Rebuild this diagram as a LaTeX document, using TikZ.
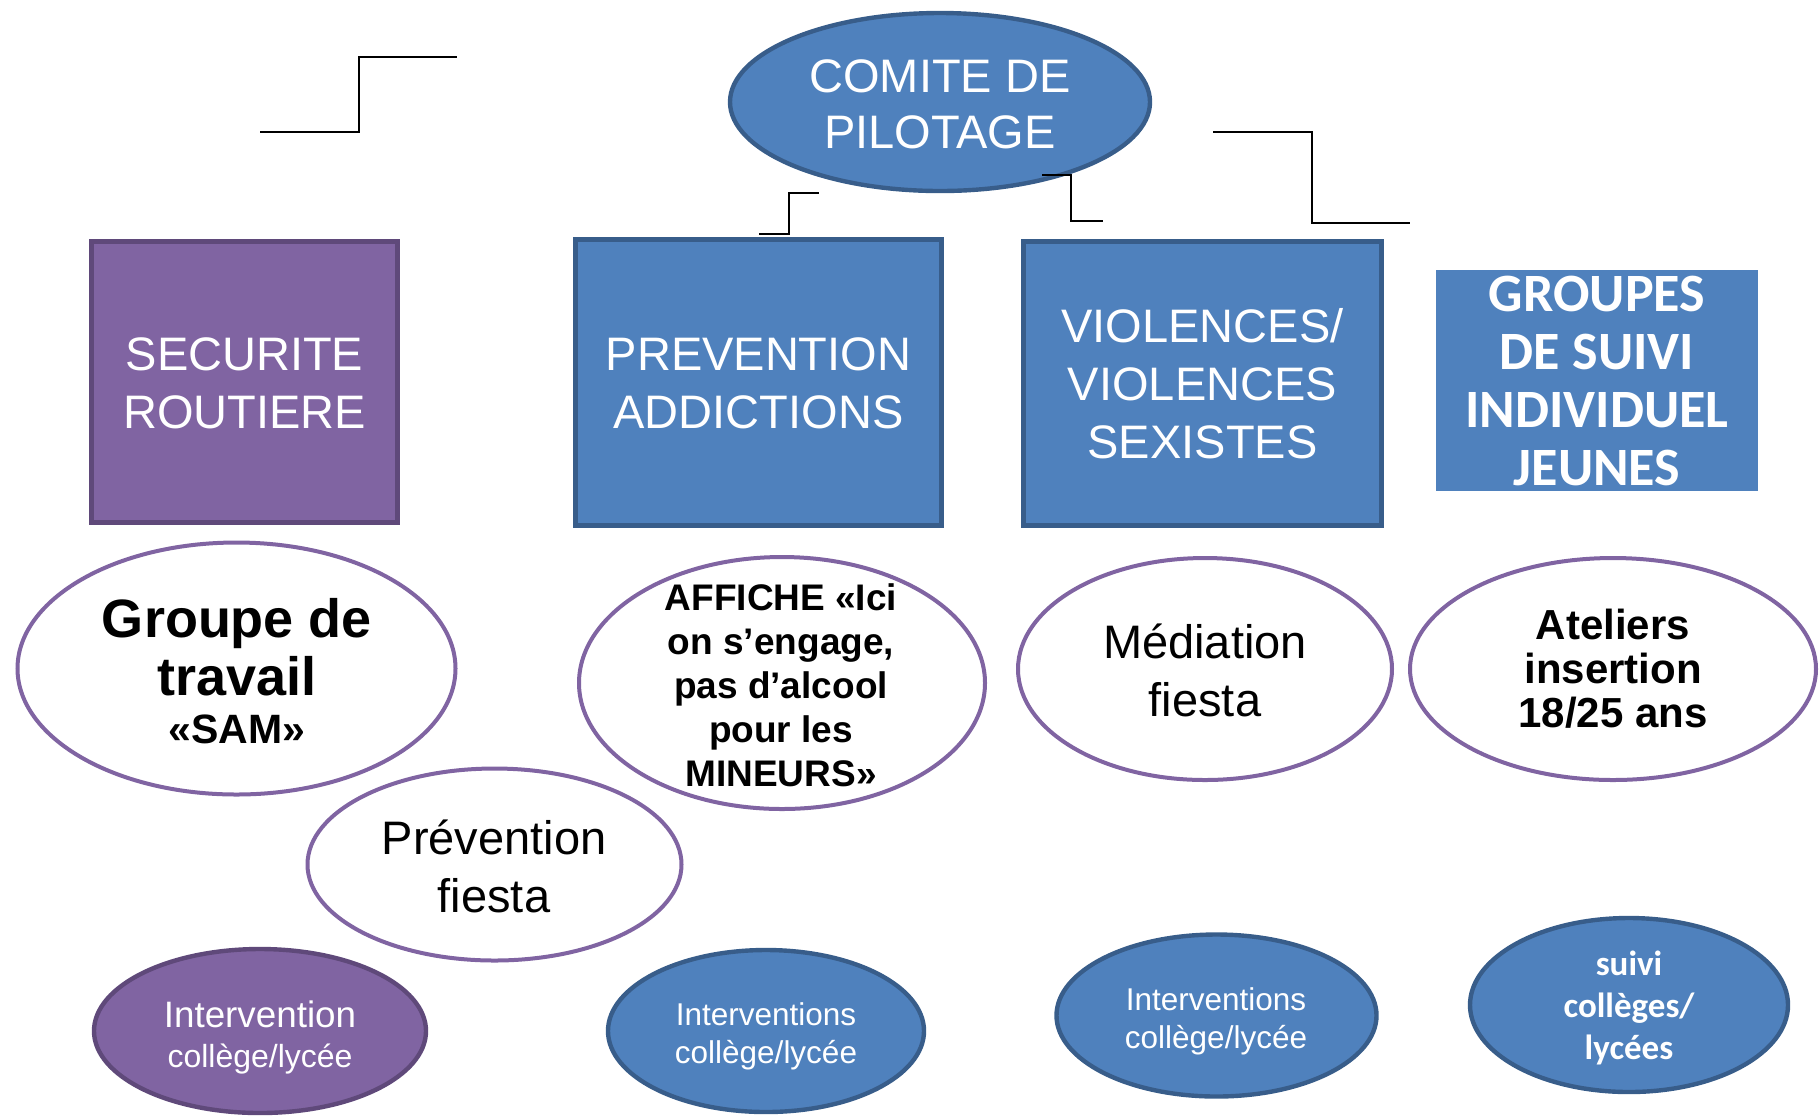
\documentclass[tikz,border=0pt]{standalone}
\usepackage{fontspec}
\setmainfont{Liberation Sans}
\newfontfamily\carlito{Carlito}
\usetikzlibrary{shapes.geometric}
\definecolor{bfill}{HTML}{4F81BD}
\definecolor{bline}{HTML}{385D8A}
\definecolor{pfill}{HTML}{8064A2}
\definecolor{pline}{HTML}{5F497A}
\newcommand{\fs}[2]{\fontsize{#1}{#2}\selectfont}
\begin{document}
\begin{tikzpicture}[x=0.5pt,y=-0.5pt,
 blueell/.style={ellipse,draw=bline,fill=bfill,line width=2.2pt,inner sep=0pt},
 purpell/.style={ellipse,draw=pline,fill=pfill,line width=2.2pt,inner sep=0pt},
 whiteell/.style={ellipse,draw=pfill,fill=white,line width=2pt,inner sep=0pt},
 bluebox/.style={rectangle,draw=bline,fill=bfill,line width=2.5pt,inner sep=0pt},
 purpbox/.style={rectangle,draw=pline,fill=pfill,line width=2.5pt,inner sep=0pt},
 flatbox/.style={rectangle,fill=bfill,inner sep=0pt},
 txt/.style={align=center,inner sep=0pt},
 wtxt/.style={txt,text=white},
 conn/.style={line width=1pt,black}]
\useasboundingbox (0,0) rectangle (1820,1116);

% connector fragments
\coordinate (l1a) at (260,132); \coordinate (l1b) at (359,132);
\coordinate (l1c) at (359,57);  \coordinate (l1d) at (457,57);
\coordinate (l2a) at (759,234); \coordinate (l2b) at (789,234);
\coordinate (l2c) at (789,193); \coordinate (l2d) at (819,193);
\coordinate (l4a) at (1213,132); \coordinate (l4b) at (1312,132);
\coordinate (l4c) at (1312,223); \coordinate (l4d) at (1410,223);
\draw[conn] (l1a) -- (l1b) -- (l1c) -- (l1d);
\draw[conn] (l2a) -- (l2b) -- (l2c) -- (l2d);
\draw[conn] (l4a) -- (l4b) -- (l4c) -- (l4d);

% top ellipse
\node[blueell,minimum width=210pt,minimum height=89pt] (comite) at (940,102) {};
\node[wtxt,font=\fs{23.5}{28}] (comitet) at (940,104) {COMITE DE\\PILOTAGE};

\coordinate (l3a) at (1042,175); \coordinate (l3b) at (1071,175);
\coordinate (l3c) at (1071,221); \coordinate (l3d) at (1103,221);
\draw[conn] (l3a) -- (l3b) -- (l3c) -- (l3d);

% boxes
\node[purpbox,minimum width=153pt,minimum height=140.5pt] (secu) at (244.5,382) {};
\node[wtxt,font=\fs{23.5}{29}] (secut) at (244.5,383) {SECURITE\\ROUTIERE};
\node[bluebox,minimum width=183pt,minimum height=143pt] (prev) at (758.5,382.5) {};
\node[wtxt,font=\fs{23.5}{29}] (prevt) at (758.5,383) {PREVENTION\\ADDICTIONS};
\node[bluebox,minimum width=179pt,minimum height=142pt] (viol) at (1202.5,383.5) {};
\node[wtxt,font=\fs{23.5}{29}] (violt) at (1202.5,384) {VIOLENCES/\\VIOLENCES\\SEXISTES};
\node[flatbox,minimum width=161pt,minimum height=110.5pt] (grp) at (1597,380.5) {};
\node[wtxt,font=\carlito\bfseries\fs{27}{29}] (grpt) at (1597,381) {GROUPES\\DE SUIVI\\INDIVIDUEL\\JEUNES};

% white ellipses
\node[whiteell,minimum width=219pt,minimum height=126pt] (sam) at (236.5,668.5) {};
\node[txt,font=\bfseries\fs{27}{29}] (samt) at (237,671) {Groupe de\\travail\\[-5pt]{\fs{20.5}{29}«SAM»}};
\node[whiteell,minimum width=187pt,minimum height=96pt] (pfi) at (494.5,864.5) {};
\node[txt,font=\fs{23.5}{29}] (pfit) at (494,866) {Prévention\\fiesta};
\node[whiteell,minimum width=203pt,minimum height=126pt] (aff) at (782,683) {};
\node[txt,font=\bfseries\fs{18.5}{22}] (afft) at (781,685) {AFFICHE «Ici\\on s’engage,\\pas d’alcool\\pour les\\MINEURS»};
\node[whiteell,minimum width=187pt,minimum height=111pt] (med) at (1205,669) {};
\node[txt,font=\fs{23.5}{29}] (medt) at (1205,670) {Médiation\\fiesta};
\node[whiteell,minimum width=203pt,minimum height=111pt] (ate) at (1613,669) {};
\node[txt,font=\bfseries\fs{21}{22}] (atet) at (1613,669) {Ateliers\\insertion\\18/25 ans};

% bottom ellipses
\node[purpell,minimum width=166pt,minimum height=82pt] (int1) at (260,1031) {};
\node[wtxt,font=\fs{18.4}{20}] (int1t) at (260,1037) {Intervention\\{\fs{16}{20}collège/lycée}};
\node[blueell,minimum width=158pt,minimum height=81pt] (int2) at (766,1031) {};
\node[wtxt,font=\fs{15.75}{19}] (int2t) at (766,1036) {Interventions\\collège/lycée};
\node[blueell,minimum width=160pt,minimum height=81pt] (int3) at (1216.5,1015.5) {};
\node[wtxt,font=\fs{15.75}{19}] (int3t) at (1216,1021) {Interventions\\collège/lycée};
\node[blueell,minimum width=159pt,minimum height=87pt] (suivi) at (1629,1005) {};
\node[wtxt,font=\carlito\bfseries\fs{17.5}{21}] (suivit) at (1629,1008) {suivi\\collèges/\\lycées};
\end{tikzpicture}
\end{document}
